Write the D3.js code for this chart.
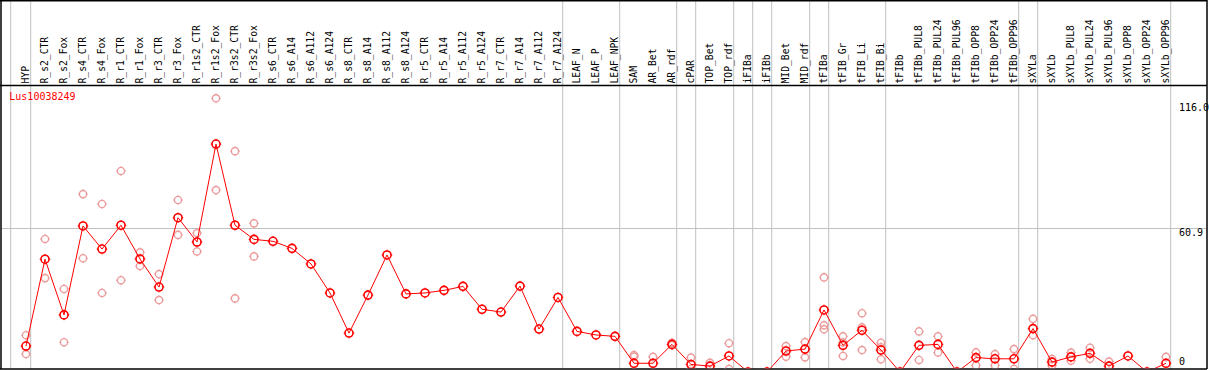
<!DOCTYPE html>
<html>
<head>
<meta charset="utf-8">
<script src="https://cdn.jsdelivr.net/npm/d3@7"></script>
<style>
  html, body { margin: 0; padding: 0; background: #fff; }
  svg { display: block; }
  text { font-family: "DejaVu Sans Mono", monospace; }
</style>
</head>
<body>
<svg id="chart" width="1209" height="370"></svg>
<script>
const categories = ["HYP","R_s2_CTR","R_s2_Fox","R_s4_CTR","R_s4_Fox","R_r1_CTR","R_r1_Fox","R_r3_CTR","R_r3_Fox","R_r1s2_CTR","R_r1s2_Fox","R_r3s2_CTR","R_r3s2_Fox","R_s6_CTR","R_s6_A14","R_s6_A112","R_s6_A124","R_s8_CTR","R_s8_A14","R_s8_A112","R_s8_A124","R_r5_CTR","R_r5_A14","R_r5_A112","R_r5_A124","R_r7_CTR","R_r7_A14","R_r7_A112","R_r7_A124","LEAF_N","LEAF_P","LEAF_NPK","SAM","AR_Bet","AR_rdf","cPAR","TOP_Bet","TOP_rdf","iFIBa","iFIBb","MID_Bet","MID_rdf","tFIBa","tFIB_Gr","tFIB_Li","tFIB_Bi","tFIBb","tFIBb_PUL8","tFIBb_PUL24","tFIBb_PUL96","tFIBb_OPP8","tFIBb_OPP24","tFIBb_OPP96","sXYLa","sXYLb","sXYLb_PUL8","sXYLb_PUL24","sXYLb_PUL96","sXYLb_OPP8","sXYLb_OPP24","sXYLb_OPP96"];

const meanValues = [11.0,47.8,24.2,61.9,52.1,62.2,47.9,36.0,65.4,55.1,96.6,62.2,56.2,55.4,52.4,45.8,33.5,16.5,32.6,49.6,33.1,33.5,34.6,36.3,26.6,25.4,36.4,18.2,31.6,17.2,15.7,15.1,3.7,3.7,11.7,3.2,2.5,6.8,0,0,8.9,9.7,26.3,11.3,17.7,9.3,0,11.3,11.7,0,6.1,5.6,5.6,18.4,4.2,6.4,7.9,2.5,6.8,0,3.7];

const replicateValues = [
  [15.6,7.6],[56.4,39.8],[35.2,12.6],[75.4,48.2],[71.2,33.5],[85.2,38.9],[50.7,44.9],[41.5,30.5],[72.9,58.1],[58.9,51.1],
  [116.0,77.1],[93.6,31.2],[63.0,49.0],[],[],[],[],[],[],[],
  [],[],[],[],[],[],[],[],[],[],
  [],[],[7.2,6.5,0],[6.4,0],[12.4,11.4],[6.1,1.3],[3.9,0],[12.2,1.3],[0],[0],
  [11.0,6.5],[12.7,6.2],[40.1,19.8,18.1],[15.1,12.5,6.8],[24.9,18.9,9.3],[12.4,10.5,5.4],[0],[17.2,5.1],[15.1,8.3],[0],
  [8.3,2.8],[7.6,2.8],[9.7,1.3],[22.5,15.6],[5.5,2.8],[8.2,4.8],[10.3,5.6],[4.4,0],[],[0],
  [6.4,0]
];

const groupEnds = ["HYP","R_r7_A124","LEAF_NPK","AR_rdf","cPAR","TOP_rdf","iFIBa","iFIBb","MID_rdf","tFIBa","tFIB_Bi","tFIBb_OPP96","sXYLa","sXYLb_OPP96"];
const yTickValues = [116.0, 60.9, 0];
const yTickLabels = ["116.0", "60.9", "0"];
const geneName = "Lus10038249";

const W = 1209, H = 370;
const headerY = 85.5, bottomY = 369, leftX = 1, rightX = 1207;

const svg = d3.select("#chart");
const x = d3.scalePoint().domain(categories).range([26, 1166]);
const step = x.step();
const y = d3.scaleLinear().domain([0, 116]).range([372, 98.3]);

const grey = "#c0c0c0";

// vertical group separators
const sepX = [x(categories[0]) - step + 3.7].concat(groupEnds.map(c => x(c) + 4.7));
svg.append("g").selectAll("line").data(sepX).join("line")
  .attr("x1", d => d).attr("x2", d => d)
  .attr("y1", 0).attr("y2", bottomY)
  .attr("stroke", grey).attr("stroke-width", 1);

// horizontal grid at middle tick
svg.append("line")
  .attr("x1", leftX).attr("x2", rightX)
  .attr("y1", Math.round(y(60.9)) + 0.5).attr("y2", Math.round(y(60.9)) + 0.5)
  .attr("stroke", grey).attr("stroke-width", 1);

// frame
const frame = svg.append("g").attr("stroke", "#000").attr("stroke-width", 1.5);
frame.append("line").attr("x1", 0).attr("x2", rightX).attr("y1", 0.75).attr("y2", 0.75);
frame.append("line").attr("x1", 0).attr("x2", rightX).attr("y1", headerY).attr("y2", headerY);
frame.append("line").attr("x1", 0).attr("x2", rightX).attr("y1", bottomY).attr("y2", bottomY);
frame.append("line").attr("x1", leftX).attr("x2", leftX).attr("y1", 0).attr("y2", bottomY);
frame.append("line").attr("x1", rightX).attr("x2", rightX).attr("y1", 0).attr("y2", bottomY);

// column labels
svg.append("g").selectAll("text").data(categories).join("text")
  .attr("transform", d => `translate(${x(d) + 2.8},83.5) rotate(-90)`)
  .attr("font-size", "9.7px")
  .attr("fill", "#000")
  .text(d => d);

// y tick labels
const tickOffsets = [12.7, 8, -7];
svg.append("g").selectAll("text").data(yTickValues).join("text")
  .attr("x", 1179)
  .attr("y", (d, i) => y(d) + tickOffsets[i])
  .attr("font-size", "10px")
  .attr("fill", "#000")
  .text((d, i) => yTickLabels[i]);

// gene label
svg.append("text").attr("x", 9.3).attr("y", 100).attr("font-size", "10px")
  .attr("fill", "#ff0000").text(geneName);

// plotting area with clip
svg.append("clipPath").attr("id", "plotclip").append("rect")
  .attr("x", leftX + 1).attr("y", headerY + 1).attr("width", rightX - leftX - 2).attr("height", bottomY - headerY - 1.8);
const plot = svg.append("g").attr("clip-path", "url(#plotclip)");

function marker(g, cx, cy, r, color, sw) {
  g.append("circle").attr("cx", cx).attr("cy", cy).attr("r", r)
    .attr("fill", "none").attr("stroke", color).attr("stroke-width", sw);
  const t = r + 1.3;
  g.append("path")
    .attr("d", `M${cx},${cy - r}V${cy - t}M${cx},${cy + r}V${cy + t}M${cx - r},${cy}H${cx - t}M${cx + r},${cy}H${cx + t}`)
    .attr("stroke", color).attr("stroke-width", 1).attr("fill", "none");
}

// replicates
const repG = plot.append("g");
const repPts = [];
replicateValues.forEach((arr, i) => arr.forEach(v => repPts.push({c: categories[i], v})));
repPts.forEach(p => marker(repG, x(p.c), y(p.v), 3.6, "#ec9c9c", 1.4));

// mean line
const meanData = categories.map((c, i) => ({c, v: meanValues[i]}));
plot.append("path").datum(meanData)
  .attr("d", d3.line().x(d => x(d.c)).y(d => y(d.v)))
  .attr("fill", "none").attr("stroke", "#ff0000").attr("stroke-width", 1);

// mean markers
const meanG = plot.append("g");
meanData.forEach(d => marker(meanG, x(d.c), y(d.v), 4, "#ff0000", 1.6));
</script>
</body>
</html>
